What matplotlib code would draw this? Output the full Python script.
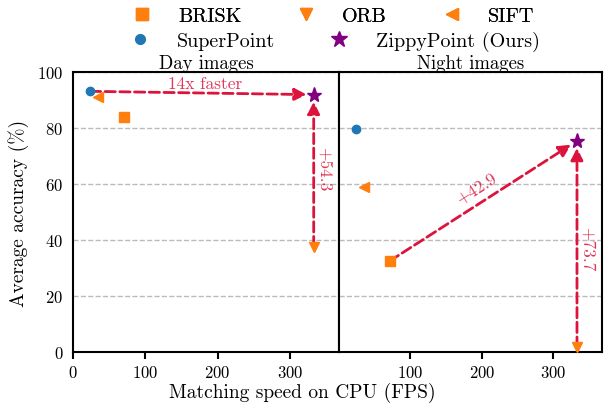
import matplotlib
matplotlib.use('Agg')
import matplotlib.pyplot as plt
from matplotlib.lines import Line2D

plt.rcParams['font.family'] = ['cmr10', 'DejaVu Serif']
plt.rcParams['mathtext.fontset'] = 'cm'
plt.rcParams['axes.formatter.use_mathtext'] = True

# Data
methods = ['BRISK', 'ORB', 'SIFT', 'SuperPoint', 'ZippyPoint (Ours)']
fps = [71, 333, 35, 24, 333]
day_acc = [83.9, 37.6, 91.0, 93.1, 91.9]
night_acc = [32.5, 1.7, 59.0, 79.6, 75.4]
markers = ['s', 'v', '<', 'o', '*']
colors = ['#ff7f0e', '#ff7f0e', '#ff7f0e', '#1f77b4', 'purple']
sizes = [7, 7, 7, 6, 11]

yticks = [0, 20, 40, 60, 80, 100]
arrow_col = 'crimson'

fig = plt.figure(figsize=(6.04, 4.06), dpi=100)
ax1 = fig.add_axes([73 / 604, 53 / 406, 266 / 604, 280 / 406])
ax2 = fig.add_axes([339 / 604, 53 / 406, 263 / 604, 280 / 406], sharey=ax1)


def draw_points(ax, acc):
    for i in range(len(methods)):
        ax.plot(fps[i], acc[i], marker=markers[i], color=colors[i],
                ms=sizes[i], ls='none', zorder=5, clip_on=False)


def arrow(ax, start, end):
    ax.annotate('', xy=end, xytext=start,
                arrowprops=dict(arrowstyle='-|>', color=arrow_col, lw=2,
                                ls='--', mutation_scale=18,
                                shrinkA=0, shrinkB=5), zorder=4)


draw_points(ax1, day_acc)
draw_points(ax2, night_acc)

# Day annotations
arrow(ax1, (fps[3], day_acc[3]), (fps[4], day_acc[4]))
arrow(ax1, (fps[1], day_acc[1]), (fps[4], day_acc[4]))
ax1.text((fps[3] + fps[4]) / 2 + 4, 95.8, '14x faster', color=arrow_col,
         alpha=0.85, fontsize=12.5, ha='center', va='center')
ax1.text(fps[4] + 14, (day_acc[1] + day_acc[4]) / 2 + 1,
         '+%.1f' % (day_acc[4] - day_acc[1]), color=arrow_col, alpha=0.85,
         fontsize=12.5, rotation=-90, ha='center', va='center')

# Night annotations
arrow(ax2, (fps[0], night_acc[0]), (fps[4], night_acc[4]))
arrow(ax2, (fps[1], night_acc[1]), (fps[4], night_acc[4]))
ax2.text(192, 58.5, '+%.1f' % (night_acc[4] - night_acc[0]), color=arrow_col,
         alpha=0.85, fontsize=12.5, rotation=32.5, ha='center', va='center',
         rotation_mode='anchor')
ax2.text(fps[4] + 14, 37, '+%.1f' % (night_acc[4] - night_acc[1]),
         color=arrow_col, alpha=0.85, fontsize=12.5, rotation=-90,
         ha='center', va='center')

for ax in (ax1, ax2):
    ax.set_xlim(0, 368)
    ax.set_ylim(0, 100)
    ax.set_yticks(yticks)
    ax.yaxis.grid(True, ls='--', color='#bbbbbb', lw=1)
    ax.set_axisbelow(True)
    for s in ax.spines.values():
        s.set_linewidth(1.5)
    ax.tick_params(axis='x', labelsize=12, width=1.5, length=5, pad=4)
    ax.tick_params(axis='y', labelsize=12, length=0, pad=7)

ax1.set_xticks([0, 100, 200, 300])
ax2.set_xticks([100, 200, 300])
ax2.tick_params(axis='y', left=False, labelleft=False)

ax1.set_title('Day images', fontsize=13.5, pad=2)
ax2.set_title('Night images', fontsize=13.5, pad=2)
ax1.set_ylabel('Average accuracy (%)', fontsize=14, labelpad=6)
fig.text(0.5, 1 - 393 / 406, 'Matching speed on CPU (FPS)', fontsize=14,
         ha='center', va='center')

handles = [Line2D([], [], marker=markers[i], color=colors[i], ls='none',
                  ms=sizes[i] + 1) for i in range(len(methods))]
leg1 = fig.legend(handles[:3], methods[:3], ncol=3, loc='center',
                  bbox_to_anchor=(328 / 604, 1 - 17 / 406), frameon=False,
                  fontsize=14.5, columnspacing=2.2, borderpad=0,
                  handletextpad=0.8)
fig.add_artist(leg1)
fig.legend(handles[3:], methods[3:], ncol=2, loc='center',
           bbox_to_anchor=(330 / 604, 1 - 42 / 406), frameon=False,
           fontsize=14.5, columnspacing=2.2, borderpad=0, handletextpad=0.8)

fig.savefig('out.png', dpi=100)
